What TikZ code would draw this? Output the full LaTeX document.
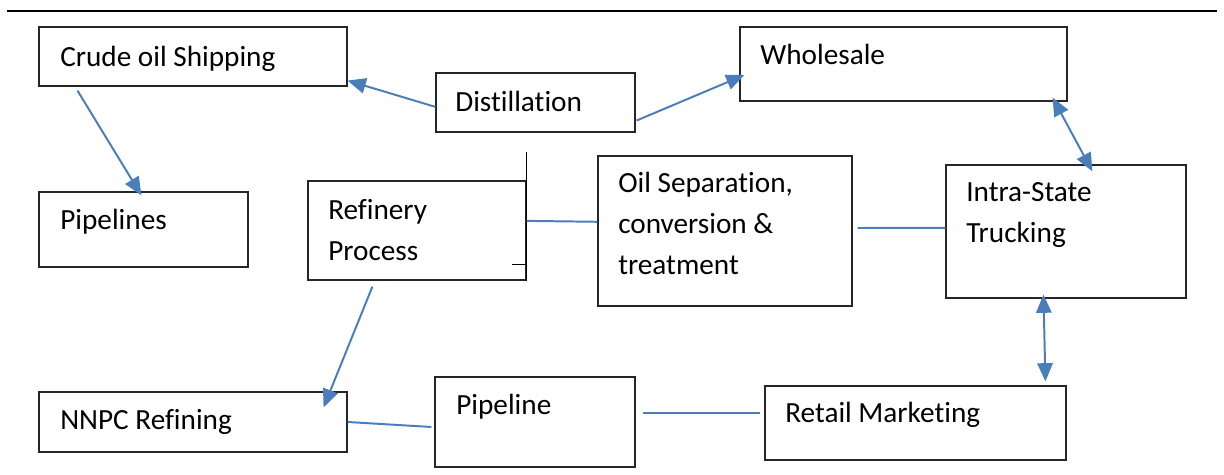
\documentclass[tikz,border=0pt]{standalone}
\usepackage{fontspec}
\setmainfont{Carlito}[Ligatures=NoCommon]
\usepackage{tikz}
\usetikzlibrary{positioning,arrows.meta,calc}
\definecolor{linkblue}{RGB}{74,126,187}

\begin{document}
\begin{tikzpicture}[
    every node/.style={font=\fontsize{20.8}{29.2}\selectfont},
    stagebox/.style={draw=black!85, line width=0.8pt, inner sep=0pt},
    stagetext/.style={anchor=base west, align=left, inner sep=0pt},
    link/.style={draw=linkblue, line width=1.4pt},
    >={Triangle[length=13pt, width=11pt]}
  ]
    \useasboundingbox (0,0) rectangle (30.6,11.875);
    \draw[line width=1.9pt] (0.175,11.6) -- (30.425,11.6);

    % boxes, top row
    \node[stagebox, minimum width=7.7cm, minimum height=1.475cm] (crude_ship) at (4.825,10.4625) {};
    \node[stagetext] (crude_ship_t) at (1.5,10.2) {Crude oil Shipping};
    \node[stagebox, minimum width=4.975cm, minimum height=1.475cm] (distil) at (13.3875,9.3125) {};
    \node[stagetext] (distil_t) at (11.375,9.075) {Distillation};
    \node[stagebox, minimum width=8.175cm, minimum height=1.85cm] (wholesale) at (22.5875,10.275) {};
    \node[stagetext] (wholesale_t) at (19.0,10.25) {Wholesale};

    % boxes, middle row (multi-line text sits on its last baseline)
    \node[stagebox, minimum width=5.225cm, minimum height=1.875cm] (pipes) at (3.5875,6.1375) {};
    \node[stagetext] (pipes_t) at (1.5,6.125) {Pipelines};
    \node[stagebox, minimum width=5.45cm, minimum height=2.475cm] (refinery) at (10.425,6.1125) {};
    \node[stagetext] (refinery_t) at (8.2,5.35) {Refinery\\Process};
    \node[stagebox, minimum width=6.35cm, minimum height=3.75cm] (oil_sep) at (18.125,6.1) {};
    \node[stagetext] (oil_sep_t) at (15.45,5.0) {Oil Separation,\\conversion \&\\treatment};
    \node[stagebox, minimum width=6cm, minimum height=3.325cm] (trucking) at (26.65,6.0875) {};
    \node[stagetext] (trucking_t) at (24.15,5.8) {Intra-State\\Trucking};

    % boxes, bottom row
    \node[stagebox, minimum width=7.7cm, minimum height=1.5cm] (nnpc) at (4.825,1.325) {};
    \node[stagetext] (nnpc_t) at (1.5,1.125) {NNPC Refining};
    \node[stagebox, minimum width=5cm, minimum height=2.25cm] (pipeline) at (13.375,1.325) {};
    \node[stagetext] (pipeline_t) at (11.4,1.5) {Pipeline};
    \node[stagebox, minimum width=7.525cm, minimum height=1.85cm] (retail) at (22.8875,1.3) {};
    \node[stagetext] (retail_t) at (19.625,1.3) {Retail Marketing};

    % stray marks at the refinery box
    \draw[line width=1pt] ($(refinery.north east)+(0,0.7)$) -- (refinery.south east);
    \draw[line width=1pt] ($(refinery.south east)+(0,0.4)$) -- ++(-0.375,0);

    % connectors
    \draw[link, ->] ($(crude_ship.south west)+(0.975,-0.1)$) -- ($(pipes.north west)+(2.575,-0.1)$);
    \draw[link, ->] ($(distil.west)+(0,-0.11)$) -- ($(crude_ship.south east)+(0,0.15)$);
    \draw[link, ->] ($(distil.south east)+(0.025,0.3)$) -- ($(wholesale.west)+(0.125,-0.275)$);
    \draw[link, <->] ($(wholesale.south east)+(-0.375,0.1)$) -- ($(trucking.north west)+(3.675,-0.175)$);
    \draw[link] ($(refinery.east)+(0,0.24)$) -- ($(oil_sep.west)+(0,0.23)$);
    \draw[link] ($(oil_sep.east)+(0.125,0.075)$) -- ($(trucking.west)+(0,0.09)$);
    \draw[link, <->] ($(trucking.south west)+(2.45,0.1)$) -- ($(retail.north west)+(7.025,0.1)$);
    \draw[link, ->] ($(refinery.south west)+(1.625,-0.15)$) -- ($(nnpc.north east)+(-0.6,-0.4)$);
    \draw[link] (nnpc.east) -- ($(pipeline.west)+(-0.075,-0.125)$);
    \draw[link] ($(pipeline.east)+(0.175,0.225)$) -- ($(retail.west)+(-0.1,0.25)$);
  \end{tikzpicture}
\end{document}
